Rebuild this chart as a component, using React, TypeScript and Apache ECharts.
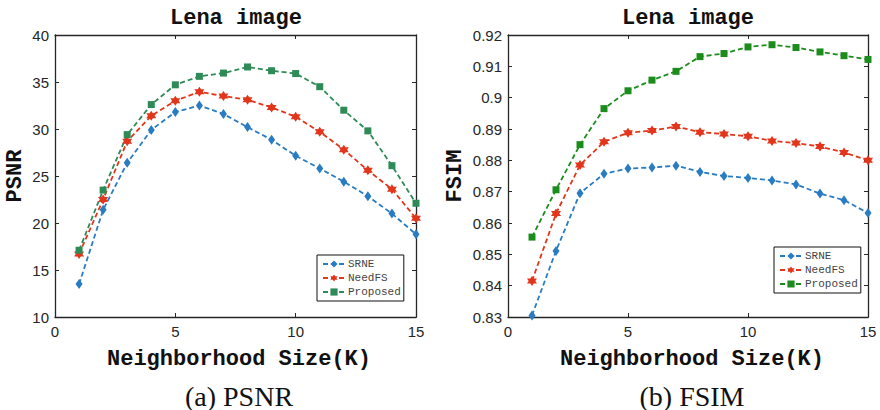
import React, { useEffect, useRef } from 'react';
import * as echarts from 'echarts';

const K = [1, 2, 3, 4, 5, 6, 7, 8, 9, 10, 11, 12, 13, 14, 15];

const psnrSRNE = [13.5, 21.4, 26.4, 29.9, 31.8, 32.5, 31.6, 30.2, 28.85, 27.15, 25.8, 24.4, 22.85, 21.0, 18.8];
const psnrNeedFS = [16.7, 22.5, 28.7, 31.4, 33.0, 33.95, 33.5, 33.1, 32.3, 31.3, 29.7, 27.8, 25.6, 23.6, 20.5];
const psnrProposed = [17.1, 23.5, 29.4, 32.6, 34.7, 35.6, 35.95, 36.6, 36.2, 35.9, 34.5, 32.0, 29.8, 26.1, 22.1];

const fsimSRNE = [0.8305, 0.8511, 0.8695, 0.8757, 0.8774, 0.8777, 0.8783, 0.8763, 0.875, 0.8744, 0.8736, 0.8723, 0.8694, 0.8673, 0.8632];
const fsimNeedFS = [0.8415, 0.863, 0.8785, 0.8859, 0.8888, 0.8895, 0.8908, 0.889, 0.8884, 0.8877, 0.8862, 0.8855, 0.8844, 0.8825, 0.88];
const fsimProposed = [0.8555, 0.8706, 0.885, 0.8965, 0.9022, 0.9056, 0.9084, 0.9131, 0.9141, 0.9162, 0.9169, 0.916, 0.9146, 0.9134, 0.9122];

const legendNames = ['SRNE', 'NeedFS', 'Proposed'];
const panelTitles = ['Lena image', 'Lena image'];
const yNames = ['PSNR', 'FSIM'];
const xName = 'Neighborhood Size(K)';
const captions = ['(a) PSNR', '(b) FSIM'];

const STAR = 'path://M0,-10 L2.89,-5 L8.66,-5 L5.77,0 L8.66,5 L2.89,5 L0,10 L-2.89,5 L-8.66,5 L-5.77,0 L-8.66,-5 L-2.89,-5 Z';

const AX = '#262626';
const BLUE = '#2a7cc2';
const RED = '#e2361c';
const GREEN_A = '#2e8b57';
const GREEN_B = '#1c8c1c';

const pairs = (ys: number[]) => K.map((k, i) => [k, ys[i]]);

export default function App() {
  const ref = useRef<HTMLDivElement>(null);
  useEffect(() => {
    if (!ref.current) return;
    const chart = echarts.init(ref.current, undefined, { renderer: 'svg' });

    const tickLabel = { fontFamily: 'Liberation Sans', fontSize: 15, color: AX };
    const mkX = (gi: number, pos: 'bottom' | 'top') => ({
      gridIndex: gi, type: 'value', min: 0, max: 15, interval: 5, position: pos,
      axisLine: { show: true, onZero: false, lineStyle: { color: AX, width: 1.3 } },
      axisTick: { show: true, inside: true, length: 4, lineStyle: { color: AX, width: 1 } },
      axisLabel: pos === 'bottom' ? { ...tickLabel, margin: 7 } : { show: false },
      splitLine: { show: false },
    });
    const mkY = (gi: number, pos: 'left' | 'right', min: number, max: number, interval: number) => ({
      gridIndex: gi, type: 'value', min, max, interval, position: pos,
      axisLine: { show: true, onZero: false, lineStyle: { color: AX, width: 1.3 } },
      axisTick: { show: true, inside: true, length: 4, lineStyle: { color: AX, width: 1 } },
      axisLabel: pos === 'left' ? { ...tickLabel, margin: 6 } : { show: false },
      splitLine: { show: false },
    });

    const mkSeries = (name: string, data: number[], color: string, symbol: string, size: any, axis: number) => ({
      name, type: 'line', data: pairs(data), xAxisIndex: axis, yAxisIndex: axis,
      symbol, symbolSize: size, showSymbol: true,
      itemStyle: { color },
      lineStyle: { color, width: 1.8, type: [5, 3] },
      emphasis: { disabled: true },
      clip: false,
    });

    const legendBase = {
      orient: 'vertical',
      backgroundColor: '#fff',
      borderColor: '#111',
      borderWidth: 1,
      borderRadius: 0,
      padding: [3, 3, 3, 5],
      itemGap: 2,
      itemWidth: 22,
      itemHeight: 9,
      textStyle: { fontFamily: 'Liberation Mono', fontSize: 11, lineHeight: 12, color: '#444', padding: [0, 0, 0, -2] },
      selectedMode: false,
      formatter: (n: string) => n.replace(/ \(b\)$/, ''),
    };

    const titleFont = { fontFamily: 'Liberation Mono', fontWeight: 'bold', fontSize: 22, fill: '#111' };
    const graphics: any[] = [];
    const centers = [236, 688];
    const xlabelCenters = [239, 692];
    const ylabelX = [15, 455];
    [0, 1].forEach((i) => {
      graphics.push({ type: 'text', x: centers[i], y: 18, style: { ...titleFont, text: panelTitles[i], align: 'center', verticalAlign: 'middle' } });
      graphics.push({ type: 'text', x: xlabelCenters[i], y: 359, style: { ...titleFont, text: xName, align: 'center', verticalAlign: 'middle' } });
      graphics.push({ type: 'text', x: ylabelX[i], y: 176, rotation: Math.PI / 2, style: { ...titleFont, text: yNames[i], align: 'center', verticalAlign: 'middle' } });
      graphics.push({ type: 'text', x: xlabelCenters[i], y: 396, style: { fontFamily: 'Liberation Serif', fontSize: 28, fill: '#111', text: captions[i], align: 'center', verticalAlign: 'middle' } });
    });

    chart.setOption({
      animation: false,
      backgroundColor: '#fff',
      grid: [
        { left: 55, top: 35, width: 361, height: 282 },
        { left: 508, top: 35, width: 360, height: 282 },
      ],
      xAxis: [mkX(0, 'bottom'), mkX(0, 'top'), mkX(1, 'bottom'), mkX(1, 'top')],
      yAxis: [mkY(0, 'left', 10, 40, 5), mkY(0, 'right', 10, 40, 5), mkY(1, 'left', 0.83, 0.92, 0.01), mkY(1, 'right', 0.83, 0.92, 0.01)],
      legend: [
        { ...legendBase, data: legendNames, left: 317, top: 255 },
        { ...legendBase, data: legendNames.map((n) => n + ' (b)'), left: 774, top: 247 },
      ],
      series: [
        mkSeries(legendNames[0], psnrSRNE, BLUE, 'diamond', [7, 10], 0),
        mkSeries(legendNames[1], psnrNeedFS, RED, STAR, [10, 10], 0),
        mkSeries(legendNames[2], psnrProposed, GREEN_A, 'rect', [7, 7], 0),
        mkSeries(legendNames[0] + ' (b)', fsimSRNE, BLUE, 'diamond', [7, 10], 2),
        mkSeries(legendNames[1] + ' (b)', fsimNeedFS, RED, STAR, [10, 10], 2),
        mkSeries(legendNames[2] + ' (b)', fsimProposed, GREEN_B, 'rect', [7, 7], 2),
      ],
      graphic: graphics,
    });
    return () => chart.dispose();
  }, []);
  return <div ref={ref} style={{ position: 'absolute', left: 0, top: 0, width: 880, height: 410 }} />;
}
